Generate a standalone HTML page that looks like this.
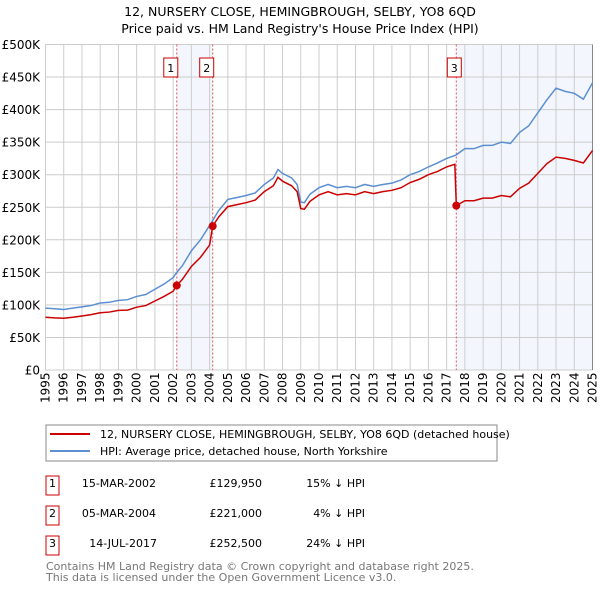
<!DOCTYPE html>
<html><head><meta charset="utf-8"><style>
body{margin:0;background:#fff;font-family:"Liberation Sans","DejaVu Sans",sans-serif;}
svg text{font-family:"DejaVu Sans","Liberation Sans",sans-serif;}
</style></head><body>
<svg id="c" width="600" height="590" xmlns="http://www.w3.org/2000/svg">
<text x="300" y="16" text-anchor="middle" font-size="12.5">12, NURSERY CLOSE, HEMINGBROUGH, SELBY, YO8 6QD</text>
<text x="300" y="33" text-anchor="middle" font-size="12.5">Price paid vs. HM Land Registry's House Price Index (HPI)</text>
<g id="plot"></g>
<rect x="46" y="425" width="451" height="36" fill="#fff" stroke="#888"/>
<line x1="50" y1="434" x2="90" y2="434" stroke="#cc0000" stroke-width="2"/>
<text x="100" y="438" font-size="11">12, NURSERY CLOSE, HEMINGBROUGH, SELBY, YO8 6QD (detached house)</text>
<line x1="50" y1="451" x2="90" y2="451" stroke="#5b8fd0" stroke-width="2"/>
<text x="100" y="455" font-size="11">HPI: Average price, detached house, North Yorkshire</text>
<g font-size="11">
<rect x="46" y="476" width="13" height="19" fill="#fff" stroke="#cc0000"/><text x="52.5" y="487" text-anchor="middle">1</text>
<text x="156" y="487" text-anchor="end">15-MAR-2002</text><text x="262" y="487" text-anchor="end">£129,950</text><text x="365" y="487" text-anchor="end">15% ↓ HPI</text>
<rect x="46" y="506" width="13" height="19" fill="#fff" stroke="#cc0000"/><text x="52.5" y="517" text-anchor="middle">2</text>
<text x="156" y="517" text-anchor="end">05-MAR-2004</text><text x="262" y="517" text-anchor="end">£221,000</text><text x="365" y="517" text-anchor="end">4% ↓ HPI</text>
<rect x="46" y="536" width="13" height="19" fill="#fff" stroke="#cc0000"/><text x="52.5" y="547" text-anchor="middle">3</text>
<text x="157" y="547" text-anchor="end">14-JUL-2017</text><text x="262" y="547" text-anchor="end">£252,500</text><text x="365" y="547" text-anchor="end">24% ↓ HPI</text>
</g>
<text x="46" y="570" font-size="11" fill="#777">Contains HM Land Registry data © Crown copyright and database right 2025.</text>
<text x="46" y="581" font-size="11" fill="#777">This data is licensed under the Open Government Licence v3.0.</text>
</svg>
<script>
const yTicks=[0,50,100,150,200,250,300,350,400,450,500];
const yTickLabels=["£0","£50K","£100K","£150K","£200K","£250K","£300K","£350K","£400K","£450K","£500K"];
const years=[1995,1996,1997,1998,1999,2000,2001,2002,2003,2004,2005,2006,2007,2008,2009,2010,2011,2012,2013,2014,2015,2016,2017,2018,2019,2020,2021,2022,2023,2024,2025];
const hpiDates=[1995,1995.5,1996,1996.5,1997,1997.5,1998,1998.5,1999,1999.5,2000,2000.5,2001,2001.5,2002,2002.2,2002.5,2003,2003.5,2004,2004.5,2005,2005.5,2006,2006.5,2007,2007.5,2007.75,2008,2008.5,2008.8,2009,2009.2,2009.5,2010,2010.5,2011,2011.5,2012,2012.5,2013,2013.5,2014,2014.5,2015,2015.5,2016,2016.5,2017,2017.5,2018,2018.5,2019,2019.5,2020,2020.5,2021,2021.5,2022,2022.5,2023,2023.5,2024,2024.5,2025];
const hpiValues=[95,94,93,95,97,99,103,104,107,108,113,116,124,132,142,150,160,183,200,222,245,262,265,268,272,285,295,308,302,295,285,258,257,270,280,285,280,282,280,285,282,285,287,292,300,305,312,318,325,330,340,340,345,345,350,348,365,375,395,415,433,428,425,416,441];
const priceDates=[1995,1995.5,1996,1996.5,1997,1997.5,1998,1998.5,1999,1999.5,2000,2000.5,2001,2001.5,2002,2002.2,2002.5,2003,2003.5,2004,2004.17,2004.5,2005,2005.5,2006,2006.5,2007,2007.5,2007.75,2008,2008.5,2008.8,2009,2009.2,2009.5,2010,2010.5,2011,2011.5,2012,2012.5,2013,2013.5,2014,2014.5,2015,2015.5,2016,2016.5,2017,2017.45,2017.53,2018,2018.5,2019,2019.5,2020,2020.5,2021,2021.5,2022,2022.5,2023,2023.5,2024,2024.5,2025];
const priceValues=[81,80,79.5,81,83,85,88,89,91.5,92,96.5,99,106,113,121,129.95,139,159,173,192,221,235,251,254,257,261,274,283,296,290,283,274,248,247,259,269,274,269,271,269,274,271,274,276,280,288,293,300,305,312,316,252.5,260,260,264,264,268,266,279,287,302,317,327,325,322,318,337];
const saleDates=[2002.2,2004.17,2017.53];
const saleValues=[129.95,221,252.5];
const saleLabels=["1","2","3"];

const NS="http://www.w3.org/2000/svg";
const L=45.5,R=592.5,T=44.5,B=370;
const X=d=>L+(d-1995)/(2025-1995)*(R-L);
const Y=v=>B-v/500*(B-T);
const g=document.getElementById('plot');
function mk(t,a){const e=document.createElementNS(NS,t);for(const k in a)e.setAttribute(k,a[k]);g.appendChild(e);return e;}
let e;
e=mk('rect',{x:X(2002.2),y:T,width:X(2004.17)-X(2002.2),height:B-T,fill:'#eef3fc',opacity:0.7});


e=mk('rect',{x:X(2017.53),y:T,width:R-X(2017.53),height:B-T,fill:'#eef3fc',opacity:0.7});


years.forEach((yr,i)=>{
 e=mk('line',{x1:X(yr),x2:X(yr),y1:T,y2:B,stroke:'#ccc','stroke-width':1});
 
 
 const tx=X(yr)+4;
 e=mk('text',{x:0,y:0,transform:`translate(${tx},403) rotate(-90)`,'font-size':12});
 e.textContent=yr;
 
 
});
yTicks.forEach((v,i)=>{
 e=mk('line',{x1:L,x2:R,y1:Y(v),y2:Y(v),stroke:'#ccc','stroke-width':1});
 
 
 e=mk('text',{x:40,y:Y(v)+4.5,'text-anchor':'end','font-size':12});
 e.textContent=yTickLabels[i];
 
 
});
e=mk('line',{x1:R,x2:R,y1:T,y2:B,stroke:'#888'});


saleDates.forEach((d,i)=>{
 e=mk('line',{x1:X(d),x2:X(d),y1:T,y2:B,stroke:'#e05555','stroke-dasharray':'2,2','stroke-width':1});
 
 
});
e=mk('polyline',{points:hpiDates.map((d,i)=>X(d)+','+Y(hpiValues[i])).join(' '),fill:'none',stroke:'#5b8fd0','stroke-width':1.5});


e=mk('polyline',{points:priceDates.map((d,i)=>X(d)+','+Y(priceValues[i])).join(' '),fill:'none',stroke:'#cc0000','stroke-width':1.5});


saleDates.forEach((d,i)=>{
 e=mk('circle',{cx:X(d),cy:Y(saleValues[i]),r:4,fill:'#cc0000'});
 
 
 const bx=X(d)-7-(i<2?6:2);
 e=mk('rect',{x:bx,y:58,width:14,height:19,fill:'#fff',stroke:'#cc0000'});
 
 
 e=mk('text',{x:bx+7,y:72,'text-anchor':'middle','font-size':11});
 e.textContent=saleLabels[i];
 
 
});
</script>
</body></html>
